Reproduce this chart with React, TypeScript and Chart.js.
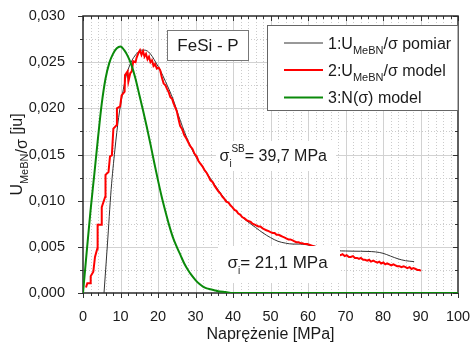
import React, { useEffect, useRef } from "react";
import { Chart, registerables } from "chart.js";

Chart.register(...registerables);

const FONT = '"Liberation Sans", Arial, Helvetica, sans-serif';

// Green: 3:N(σ) model
const greenX = [0, 1, 2, 3, 4, 5, 6, 7, 8, 9, 10, 11, 12, 13, 14, 15, 16, 17, 18, 19, 20, 21, 22, 23, 24, 25, 26, 27, 28, 29, 30, 31, 32, 33, 34, 35, 36, 38, 40, 100];
const greenY = [0, 0.0045, 0.0089, 0.0128, 0.0168, 0.0205, 0.0232, 0.0249, 0.0259, 0.0265, 0.0267, 0.0263, 0.0256, 0.0246, 0.0232, 0.0215, 0.0198, 0.018, 0.0161, 0.0141, 0.0122, 0.0104, 0.0088, 0.0073, 0.006, 0.005, 0.0041, 0.0032, 0.0025, 0.0019, 0.0014, 0.001, 0.0007, 0.0005, 0.0004, 0.0003, 0.0002, 0.0001, 0, 0];

// Black: 1:U_MeBN/σ pomiar
const blackX = [5.6, 6.5, 7.5, 8.5, 9.5, 10.5, 11.5, 12.5, 13.5, 14.5, 15.5, 16.5, 17.5, 18.5, 19.5, 20.5, 22, 24, 26, 28, 30, 32, 34, 36, 38, 40, 42, 44, 46, 48, 50, 52, 54, 56, 58, 60, 64, 68, 70, 72, 74, 76, 78, 80, 82, 84, 86, 88.3];
const blackY = [0, 0.0052, 0.0112, 0.0155, 0.019, 0.0215, 0.0235, 0.0247, 0.0255, 0.026, 0.0263, 0.0263, 0.0261, 0.0256, 0.0249, 0.0242, 0.0229, 0.021, 0.0186, 0.0165, 0.0148, 0.0136, 0.0124, 0.0112, 0.0101, 0.0092, 0.0084, 0.0077, 0.0071, 0.0065, 0.006, 0.0056, 0.0054, 0.0053, 0.0053, 0.0052, 0.0049, 0.00458, 0.00455, 0.00453, 0.00452, 0.0045, 0.00445, 0.0043, 0.004, 0.0037, 0.0035, 0.0034];

// Red: 2:U_MeBN/σ model
const redX = [0.8, 1.15, 1.87, 2.05, 2.75, 3.2, 3.8, 3.9, 4.8, 5.0, 5.9, 6.0, 6.8, 7.2, 7.7, 8.1, 9.0, 9.05, 9.9, 10.3, 11.1, 11.2, 11.9, 12.1, 12.6, 13.0, 13.4, 14.0, 14.3, 14.8, 15.2, 15.6, 16.0, 16.4, 16.8, 17.2, 17.6, 18.0, 18.4, 18.8, 19.2, 19.7, 20.2, 20.6, 21.0, 21.5, 22.0, 22.4, 22.9, 23.3, 23.8, 24.1, 24.6, 25.0, 25.5, 25.9, 26.5, 27.0, 27.6, 28.1, 28.6, 29.2, 29.7, 30.3, 30.8, 31.3, 31.9, 32.4, 33.0, 33.5, 34.0, 34.6, 35.1, 35.6, 36.1, 36.6, 37.2, 37.7, 38.2, 38.8, 39.3, 39.8, 40.4, 40.9, 41.4, 41.9, 42.5, 43.0, 43.6, 44.1, 44.7, 45.2, 45.8, 46.3, 46.8, 47.3, 47.9, 48.4, 48.9, 49.5, 50.0, 50.6, 51.1, 51.6, 52.2, 52.7, 53.2, 53.8, 54.3, 54.8, 55.3, 55.9, 56.4, 56.9, 57.5, 58.0, 58.5, 59.1, 59.8, 62, 65, 68.0, 68.7, 69.2, 69.8, 70.3, 70.9, 71.4, 72.0, 72.5, 73.1, 73.6, 74.1, 74.7, 75.2, 75.8, 76.3, 76.8, 77.4, 77.9, 78.5, 79.0, 79.5, 80.1, 80.6, 81.1, 81.7, 82.2, 82.8, 83.3, 83.8, 84.4, 84.9, 85.5, 86.0, 86.5, 87.1, 87.6, 88.1, 88.7, 89.2, 89.7, 90.1];
const redY = [0.0006, 0.00105, 0.00105, 0.0018, 0.0023, 0.0039, 0.0048, 0.0074, 0.0074, 0.0093, 0.0104, 0.0128, 0.0131, 0.0148, 0.0149, 0.0178, 0.0182, 0.02, 0.0202, 0.0214, 0.0218, 0.0236, 0.024, 0.0229, 0.0238, 0.024, 0.0251, 0.025, 0.0255, 0.026, 0.0263, 0.0258, 0.0262, 0.0256, 0.0259, 0.0253, 0.0256, 0.025, 0.0252, 0.0246, 0.0248, 0.0243, 0.0244, 0.0241, 0.0234, 0.0227, 0.0225, 0.0221, 0.0217, 0.0212, 0.021, 0.0206, 0.0201, 0.0197, 0.0188, 0.0181, 0.0177, 0.0171, 0.0167, 0.0163, 0.0159, 0.0156, 0.0151, 0.0148, 0.0143, 0.014, 0.0137, 0.0133, 0.013, 0.0126, 0.0122, 0.012, 0.0116, 0.0113, 0.011, 0.0108, 0.0104, 0.0102, 0.0099, 0.0098, 0.0095, 0.0093, 0.009, 0.0089, 0.0086, 0.0085, 0.0082, 0.0081, 0.0079, 0.0078, 0.0077, 0.0075, 0.0074, 0.0073, 0.0072, 0.0072, 0.007, 0.0069, 0.0068, 0.0067, 0.0066, 0.0065, 0.0065, 0.0063, 0.0063, 0.0062, 0.0061, 0.006, 0.0059, 0.0058, 0.0058, 0.0057, 0.0056, 0.0055, 0.0055, 0.0054, 0.0054, 0.0053, 0.0053, 0.005, 0.0046, 0.0042, 0.0041, 0.0042, 0.004, 0.0041, 0.0039, 0.0039, 0.004, 0.0038, 0.0038, 0.0037, 0.0038, 0.0036, 0.0036, 0.0035, 0.0036, 0.0034, 0.0035, 0.0034, 0.0033, 0.0034, 0.0032, 0.0033, 0.0031, 0.0032, 0.0031, 0.003, 0.0031, 0.003, 0.0029, 0.0029, 0.0028, 0.0029, 0.0028, 0.0027, 0.0028, 0.0026, 0.0027, 0.0026, 0.0025, 0.0025, 0.0024];

const xMin = 0, xMax = 100, xMajor = 10, xMinor = 2;
const yMin = 0, yMax = 0.03, yMajor = 0.005, yMinor = 0.0025;

const xTitle = "Naprężenie [MPa]";
const sampleTitle = "FeSi - P";
const legendRows = [
  { color: "#333333", width: 1, parts: [["1:U", 0], ["MeBN", 1], ["/σ pomiar", 0]] },
  { color: "#ff0000", width: 2, parts: [["2:U", 0], ["MeBN", 1], ["/σ model", 0]] },
  { color: "#0a8a0a", width: 2, parts: [["3:N(σ) model", 0]] },
];

type Seg = { t: string; s: number; dy: number };

function segWidth(ctx: CanvasRenderingContext2D, segs: Seg[]) {
  let w = 0;
  for (const g of segs) {
    ctx.font = `${g.s}px ${FONT}`;
    w += ctx.measureText(g.t).width;
  }
  return w;
}
function drawSegs(ctx: CanvasRenderingContext2D, x: number, y: number, segs: Seg[]) {
  let cx = x;
  ctx.textBaseline = "alphabetic";
  ctx.textAlign = "left";
  for (const g of segs) {
    ctx.font = `${g.s}px ${FONT}`;
    ctx.fillText(g.t, cx, y + g.dy);
    cx += ctx.measureText(g.t).width;
  }
}

const decor = {
  id: "decor",
  beforeDatasetsDraw(chart: any) {
    const { ctx, chartArea: a, scales } = chart;
    const xs = scales.x, ys = scales.y;
    ctx.save();
    // minor dotted grid
    ctx.lineWidth = 1;
    ctx.strokeStyle = "#cccccc";
    ctx.setLineDash([1, 2]);
    for (let i = 1; i < Math.round((xMax - xMin) / xMinor); i++) {
      const v = xMin + i * xMinor;
      if (Math.abs(v / xMajor - Math.round(v / xMajor)) < 1e-6) continue;
      const p = Math.round(xs.getPixelForValue(v)) + 0.5;
      ctx.beginPath(); ctx.moveTo(p, a.top); ctx.lineTo(p, a.bottom); ctx.stroke();
    }
    for (let i = 1; i < Math.round((yMax - yMin) / yMinor); i++) {
      const v = yMin + i * yMinor;
      if (Math.abs(v / yMajor - Math.round(v / yMajor)) < 1e-6) continue;
      const p = Math.round(ys.getPixelForValue(v)) + 0.5;
      ctx.beginPath(); ctx.moveTo(a.left, p); ctx.lineTo(a.right, p); ctx.stroke();
    }
    ctx.setLineDash([]);
    ctx.strokeStyle = "#d2d2d2";
    for (let i = 1; i < Math.round((xMax - xMin) / xMajor); i++) {
      const p = Math.round(xs.getPixelForValue(xMin + i * xMajor)) + 0.5;
      ctx.beginPath(); ctx.moveTo(p, a.top); ctx.lineTo(p, a.bottom); ctx.stroke();
    }
    for (let i = 1; i < Math.round((yMax - yMin) / yMajor); i++) {
      const p = Math.round(ys.getPixelForValue(yMin + i * yMajor)) + 0.5;
      ctx.beginPath(); ctx.moveTo(a.left, p); ctx.lineTo(a.right, p); ctx.stroke();
    }
    // ticks
    ctx.strokeStyle = "#333333";
    ctx.lineWidth = 1;
    const nx = Math.round((xMax - xMin) / xMinor);
    for (let i = 0; i <= nx; i++) {
      const v = xMin + i * xMinor;
      const major = Math.abs(v / xMajor - Math.round(v / xMajor)) < 1e-6;
      const p = Math.round(xs.getPixelForValue(v)) + 0.5;
      const L = major ? 5 : 3;
      ctx.beginPath(); ctx.moveTo(p, a.bottom); ctx.lineTo(p, a.bottom + L); ctx.stroke();
      ctx.beginPath(); ctx.moveTo(p, a.top); ctx.lineTo(p, a.top + (major ? 5 : 3)); ctx.stroke();
    }
    const ny = Math.round((yMax - yMin) / yMinor);
    for (let i = 0; i <= ny; i++) {
      const v = yMin + i * yMinor;
      const major = Math.abs(v / yMajor - Math.round(v / yMajor)) < 1e-6;
      const p = Math.round(ys.getPixelForValue(v)) + 0.5;
      const L = major ? 5 : 3;
      ctx.beginPath(); ctx.moveTo(a.left, p); ctx.lineTo(a.left - L, p); ctx.stroke();
      ctx.beginPath(); ctx.moveTo(a.right, p); ctx.lineTo(a.right - L, p); ctx.stroke();
    }
    // frame
    ctx.lineWidth = 1.5;
    ctx.strokeStyle = "#2a2a2a";
    ctx.strokeRect(a.left, a.top, a.right - a.left, a.bottom - a.top);
    ctx.restore();
  },
  afterDatasetsDraw(chart: any) {
    const { ctx, chartArea: a } = chart;
    ctx.save();
    ctx.fillStyle = "#1a1a1a";

    // sample label box
    ctx.fillStyle = "#ffffff";
    ctx.fillRect(167.5, 30.5, 81, 30);
    ctx.strokeStyle = "#777777";
    ctx.lineWidth = 1;
    ctx.strokeRect(167.5, 30.5, 81, 30);
    ctx.fillStyle = "#1a1a1a";
    ctx.font = `17px ${FONT}`;
    ctx.textAlign = "center";
    ctx.textBaseline = "alphabetic";
    ctx.fillText(sampleTitle, 208, 51);

    // legend box
    ctx.fillStyle = "#ffffff";
    ctx.fillRect(267.5, 25.5, a.right - 267.5, 85);
    ctx.strokeStyle = "#666666";
    ctx.strokeRect(267.5, 25.5, a.right - 267.5, 85);
    const rowY = [43, 70, 97.5];
    legendRows.forEach((r, i) => {
      ctx.strokeStyle = r.color;
      ctx.lineWidth = r.width;
      ctx.beginPath(); ctx.moveTo(284, rowY[i]); ctx.lineTo(323, rowY[i]); ctx.stroke();
      ctx.fillStyle = "#1a1a1a";
      const segs: Seg[] = r.parts.map(([t, sub]: any) => sub ? { t, s: 11, dy: 5 } : { t, s: 16, dy: 0 });
      drawSegs(ctx, 328, rowY[i] + 5.5, segs);
    });

    // σ_i^SB label
    ctx.fillStyle = "#ffffff";
    ctx.fillRect(216, 141, 120, 30);
    ctx.fillStyle = "#1a1a1a";
    drawSegs(ctx, 219.5, 161, [{ t: "σ", s: 16, dy: 0 }]);
    ctx.font = `16px ${FONT}`;
    const sw = ctx.measureText("σ").width;
    drawSegs(ctx, 219.5 + sw, 161, [{ t: "i", s: 10, dy: 6 }]);
    drawSegs(ctx, 219.5 + sw + 2, 161, [{ t: "SB", s: 10, dy: -9 }, { t: "= 39,7 MPa", s: 16, dy: 0 }]);

    // σ_i label
    ctx.fillStyle = "#ffffff";
    ctx.fillRect(218, 246, 122, 37);
    ctx.fillStyle = "#1a1a1a";
    drawSegs(ctx, 227.5, 268, [{ t: "σ", s: 17, dy: 0 }, { t: "i", s: 10, dy: 6 }, { t: "= 21,1 MPa", s: 17, dy: 0 }]);

    // x title
    ctx.font = `16px ${FONT}`;
    ctx.textAlign = "center";
    ctx.fillText(xTitle, (a.left + a.right) / 2, 339);

    // y title (rotated)
    const ySegs: Seg[] = [
      { t: "U", s: 16, dy: 0 },
      { t: "MeBN", s: 11, dy: 6 },
      { t: "/σ", s: 16, dy: 5 },
      { t: " [ju]", s: 16, dy: 0 },
    ];
    ctx.save();
    ctx.translate(21.5, (a.top + a.bottom) / 2);
    ctx.rotate(-Math.PI / 2);
    const w = segWidth(ctx, ySegs);
    drawSegs(ctx, -w / 2, 0, ySegs);
    ctx.restore();

    ctx.restore();
  },
};

function pts(xs: number[], ys: number[]) {
  return xs.map((x, i) => ({ x, y: ys[i] }));
}

export default function App() {
  const ref = useRef<HTMLCanvasElement>(null);
  useEffect(() => {
    if (!ref.current) return;
    const chart = new Chart(ref.current, {
      type: "scatter",
      data: {
        datasets: [
          {
            label: "3:N(σ) model",
            data: pts(greenX, greenY),
            showLine: true,
            borderColor: "#0a8a0a",
            borderWidth: 2,
            pointRadius: 0,
            cubicInterpolationMode: "monotone",
          },
          {
            label: "2:U/σ model",
            data: pts(redX, redY),
            showLine: true,
            borderColor: "#ff0000",
            borderWidth: 2,
            pointRadius: 0,
            tension: 0,
          },
          {
            label: "1:U/σ pomiar",
            data: pts(blackX, blackY),
            showLine: true,
            borderColor: "#333333",
            borderWidth: 1,
            pointRadius: 0,
            cubicInterpolationMode: "monotone",
          },
        ],
      },
      options: {
        animation: false,
        responsive: false,
        events: [],
        layout: { padding: { top: 16, right: 12, left: 0, bottom: 0 } },
        plugins: { legend: { display: false }, tooltip: { enabled: false } },
        scales: {
          x: {
            type: "linear",
            min: xMin,
            max: xMax,
            grid: { display: false },
            border: { display: false },
            afterFit: (s: any) => { s.height = 54; s.paddingLeft = 0; s.paddingRight = 0; },
            ticks: {
              stepSize: xMajor,
              padding: 7,
              color: "#1a1a1a",
              font: { family: FONT, size: 14.5 },
              maxRotation: 0,
              callback: (v: any) => String(v),
            },
          },
          y: {
            type: "linear",
            min: yMin,
            max: yMax,
            grid: { display: false },
            border: { display: false },
            afterFit: (s: any) => { s.width = 83; s.paddingTop = 0; s.paddingBottom = 0; },
            ticks: {
              stepSize: yMajor,
              padding: 10,
              color: "#1a1a1a",
              font: { family: FONT, size: 14.5 },
              callback: (v: any) => Number(v).toFixed(3).replace(".", ","),
            },
          },
        },
      },
      plugins: [decor],
    });
    return () => chart.destroy();
  }, []);
  return (
    <div style={{ position: "absolute", left: 0, top: 0, width: 470, height: 347, background: "#fff" }}>
      <canvas ref={ref} width={470} height={347} />
    </div>
  );
}
